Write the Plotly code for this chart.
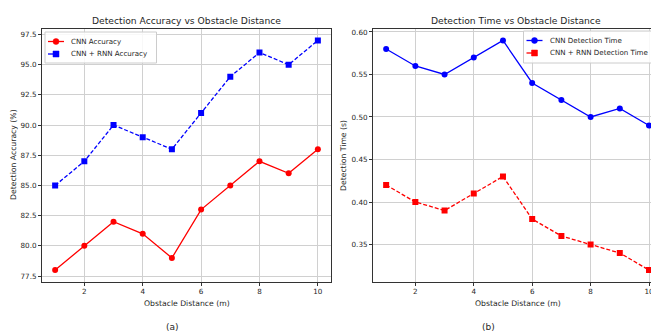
import plotly.graph_objects as go

distance = [1, 2, 3, 4, 5, 6, 7, 8, 9, 10]
cnn_accuracy = [78, 80, 82, 81, 79, 83, 85, 87, 86, 88]
cnn_rnn_accuracy = [85, 87, 90, 89, 88, 91, 94, 96, 95, 97]
cnn_time = [0.58, 0.56, 0.55, 0.57, 0.59, 0.54, 0.52, 0.50, 0.51, 0.49]
cnn_rnn_time = [0.42, 0.40, 0.39, 0.41, 0.43, 0.38, 0.36, 0.35, 0.34, 0.32]
x_ticks = [2, 4, 6, 8, 10]
acc_ticks = [77.5, 80.0, 82.5, 85.0, 87.5, 90.0, 92.5, 95.0, 97.5]
time_ticks = [0.35, 0.40, 0.45, 0.50, 0.55, 0.60]

FONT = "DejaVu Sans"
TXT = "#262626"
W, H = 659, 333          # browser window
OFF = 8                  # default page body margin
FW, FH = W - OFF, H - OFF
DASH = "4px,2px"

series = [
    dict(x=distance, y=cnn_accuracy, name="CNN Accuracy", color="red", dash="solid", symbol="circle", ax="x", ay="y"),
    dict(x=distance, y=cnn_rnn_accuracy, name="CNN + RNN Accuracy", color="blue", dash=DASH, symbol="square", ax="x", ay="y"),
    dict(x=distance, y=cnn_time, name="CNN Detection Time", color="blue", dash="solid", symbol="circle", ax="x2", ay="y2"),
    dict(x=distance, y=cnn_rnn_time, name="CNN + RNN Detection Time", color="red", dash=DASH, symbol="square", ax="x2", ay="y2"),
]


def px(x):
    return (x - OFF) / FW


def py(y):
    return 1 - (y - OFF) / FH


fig = go.Figure()
for s in series:
    fig.add_trace(go.Scatter(x=s["x"], y=s["y"], mode="lines+markers", name=s["name"],
                             line=dict(color=s["color"], width=1.3, dash=s["dash"]),
                             marker=dict(symbol=s["symbol"], size=6, color=s["color"]),
                             xaxis=s["ax"], yaxis=s["ay"], showlegend=False))

ydom = [py(281.5), py(29)]
axis_common = dict(showgrid=True, gridcolor="#d0d0d0", gridwidth=1, zeroline=False,
                   showline=True, linecolor="#333333", linewidth=1,
                   ticks="outside", ticklen=3, tickcolor="#333333",
                   tickfont=dict(family=FONT, size=7.2, color=TXT))

fig.update_layout(
    width=FW, height=FH, margin=dict(l=0, r=0, t=0, b=0, autoexpand=False),
    paper_bgcolor="white", plot_bgcolor="white", showlegend=False,
    xaxis=dict(domain=[px(42), px(331)], range=[0.55, 10.45], tickvals=x_ticks, mirror=True, anchor="y", **axis_common),
    yaxis=dict(domain=ydom, range=[77.05, 97.95], tickvals=acc_ticks, tickformat=".1f", mirror=True, anchor="x", **axis_common),
    xaxis2=dict(domain=[px(373), 1.0], range=[0.55, 10.342], tickvals=x_ticks, mirror=True, anchor="y2", **axis_common),
    yaxis2=dict(domain=ydom, range=[0.3065, 0.6035], tickvals=time_ticks, tickformat=".2f", mirror=False, anchor="x2", **axis_common),
)

# custom compact legends (matplotlib style)
legends = [
    dict(box=(45, 32, 156.5, 63), items=[series[0], series[1]]),
    dict(box=(523.5, 31, 657, 63), items=[series[2], series[3]]),
]
for lg in legends:
    x0, y0, x1, y1 = lg["box"]
    fig.add_shape(type="rect", xref="paper", yref="paper", x0=px(x0), x1=px(x1), y0=py(y1), y1=py(y0),
                  line=dict(color="#cccccc", width=1), fillcolor="rgba(255,255,255,0.85)", layer="above")
    for i, s in enumerate(lg["items"]):
        yy = y0 + 9.5 + i * 12.5
        fig.add_shape(type="line", xref="paper", yref="paper", x0=px(x0 + 3), x1=px(x0 + 19), y0=py(yy), y1=py(yy),
                      line=dict(color=s["color"], width=1.3, dash="dash" if s["dash"] != "solid" else "solid"), layer="above")
        cx = x0 + 11
        r = 3
        fig.add_shape(type="circle" if s["symbol"] == "circle" else "rect", xref="paper", yref="paper",
                      x0=px(cx - r), x1=px(cx + r), y0=py(yy + r), y1=py(yy - r),
                      line=dict(color=s["color"], width=0.5), fillcolor=s["color"], layer="above")
        fig.add_annotation(text=s["name"], x=px(x0 + 24), y=py(yy), xref="paper", yref="paper",
                           xanchor="left", yanchor="middle", showarrow=False,
                           font=dict(family=FONT, size=7.1, color=TXT))

ann = [
    dict(text="Detection Accuracy vs Obstacle Distance", x=186.5, y=20, size=9.2),
    dict(text="Detection Time vs Obstacle Distance", x=516, y=20, size=9.2),
    dict(text="Obstacle Distance (m)", x=186.5, y=303, size=7.7),
    dict(text="Obstacle Distance (m)", x=518, y=303, size=7.7),
    dict(text="(a)", x=172, y=326.5, size=9),
    dict(text="(b)", x=488, y=326.5, size=9),
]
for a in ann:
    fig.add_annotation(text=a["text"], x=px(a["x"]), y=py(a["y"]), xref="paper", yref="paper",
                       xanchor="center", yanchor="middle", showarrow=False,
                       font=dict(family=FONT, size=a["size"], color=TXT))
fig.add_annotation(text="Detection Accuracy (%)", x=px(13), y=py(155), xref="paper", yref="paper",
                   xanchor="center", yanchor="middle", showarrow=False, textangle=-90,
                   font=dict(family=FONT, size=7.7, color=TXT))
fig.add_annotation(text="Detection Time (s)", x=px(343), y=py(155), xref="paper", yref="paper",
                   xanchor="center", yanchor="middle", showarrow=False, textangle=-90,
                   font=dict(family=FONT, size=7.7, color=TXT))

fig.write_html("out.html")
